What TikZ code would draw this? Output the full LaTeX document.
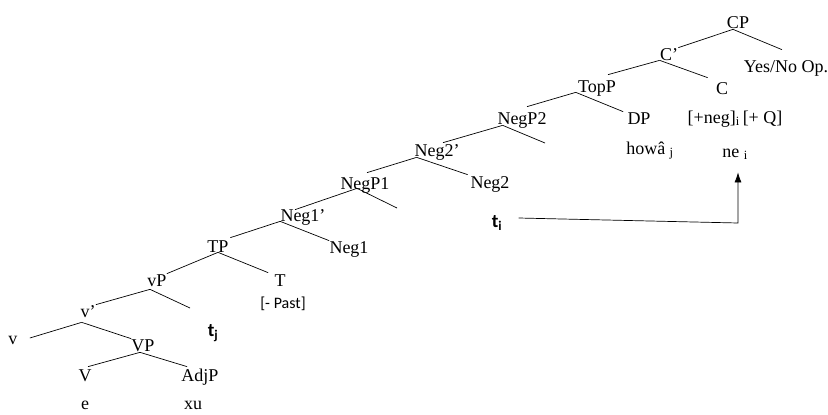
\documentclass[tikz,border=0pt]{standalone}
\usepackage{fontspec}
\setmainfont{Liberation Serif}
\newfontfamily\calfont{Carlito}
\usetikzlibrary{arrows.meta}
\begin{document}
\begin{tikzpicture}[x=1pt,y=-1pt,>={Latex[length=10pt,width=7pt]},line width=0.7pt,
  lab/.style={inner sep=0pt,text height=12pt,text depth=0pt,font=\fontsize{18}{20}\selectfont},
  cal/.style={inner sep=0pt,text height=12pt,text depth=0pt,font=\calfont\fontsize{16}{18}\selectfont},
  trace/.style={inner sep=0pt,text height=12pt,text depth=0pt,font=\calfont\bfseries\fontsize{19}{20}\selectfont}]
\useasboundingbox (0,0) rectangle (828,415);
\node[lab] (CP) at (738,22) {CP};
\node[lab] (YesNo) at (786,66) {Yes/No Op.};
\node[lab] (Cbar) at (669,54) {C'};
\node[lab] (C) at (722,88) {C};
\node[lab] (feat) at (735,117) {[+neg]\textsubscript{i}\,[+ Q]};
\node[lab] (ne) at (735,151) {ne \textsubscript{i}};
\node[lab] (TopP) at (597,86) {TopP};
\node[lab] (DP) at (639,118) {DP};
\node[lab] (howa) at (650,148) {howâ \textsubscript{j}};
\node[lab] (NegPtwo) at (522,118) {NegP2};
\node[lab] (Negtwobar) at (437,150) {Neg2'};
\node[lab] (Negtwo) at (490,182) {Neg2};
\node[trace] (ti) at (497,221) {t\textsubscript{i}};
\node[lab] (NegPone) at (365,183) {NegP1};
\node[lab] (Negonebar) at (303,215) {Neg1'};
\node[lab] (Negone) at (349,247) {Neg1};
\node[lab] (TP) at (218,246) {TP};
\node[lab] (T) at (280,280) {T};
\node[cal] (Past) at (283,302) {[- Past]};
\node[lab] (vP) at (157,280) {vP};
\node[trace] (tj) at (213,330) {t\textsubscript{j}};
\node[lab] (vbar) at (88,311) {v'};
\node[lab] (v) at (13,338) {v};
\node[lab] (VP) at (143,345) {VP};
\node[lab] (V) at (85,375) {V};
\node[lab] (AdjP) at (200,375) {AdjP};
\node[lab] (e) at (85,403) {e};
\node[lab] (xu) at (193,403) {xu};
\coordinate (NegPtwoR) at (545,143);
\coordinate (NegPoneR) at (397,208);
\coordinate (vPR) at (190,308);
\coordinate (turn) at (738,223);
\draw ([shift={(-5,1)}]CP.south) -- (Cbar.north east);
\draw ([shift={(-5,1)}]CP.south) -- ([shift={(-4,-10)}]YesNo.north);
\draw (Cbar.south west) -- ([shift={(11,-5)}]TopP.north);
\draw (Cbar.south west) -- ([shift={(-8,-4)}]C.north west);
\draw ([shift={(-2,0)}]TopP.south west) -- ([shift={(5,-5)}]NegPtwo.north);
\draw ([shift={(-2,0)}]TopP.south west) -- ([shift={(-4,0)}]DP.north west);
\draw ([shift={(5.5,1)}]NegPtwo.south west) -- ([shift={(6,-1)}]Negtwobar.north);
\draw ([shift={(5.5,1)}]NegPtwo.south west) -- (NegPtwoR);
\draw ([shift={(2.5,1)}]Negtwobar.south west) -- ([shift={(2,-4)}]NegPone.north);
\draw ([shift={(2.5,1)}]Negtwobar.south west) -- ([shift={(-2.5,-1)}]Negtwo.north west);
\draw ([shift={(-8,-1)}]NegPone.south) -- ([shift={(-8,1)}]Negonebar.north);
\draw ([shift={(-8,-1)}]NegPone.south) -- (NegPoneR);
\draw (Negonebar.south west) -- ([shift={(1.5,-2)}]TP.north east);
\draw (Negonebar.south west) -- (Negone.north west);
\draw (TP.south) -- (vP.north east);
\draw (TP.south) -- ([shift={(-6,-1)}]T.north west);
\draw ([shift={(-7,3)}]vP.south) -- (vbar.north east);
\draw ([shift={(-7,3)}]vP.south) -- (vPR);
\draw ([shift={(1.5,5)}]vbar.south west) -- ([shift={(12,0)}]v.east);
\draw ([shift={(1.5,5)}]vbar.south west) -- (VP.north west);
\draw ([shift={(-3,1)}]VP.south) -- ([shift={(3,-2)}]V.north);
\draw ([shift={(-3,1)}]VP.south) -- ([shift={(6,-2)}]AdjP.north west);
\draw[->] ([shift={(16,-3)}]ti.east) -- (turn) -- ([yshift=-15pt]turn |- ne.south);
\end{tikzpicture}
\end{document}
